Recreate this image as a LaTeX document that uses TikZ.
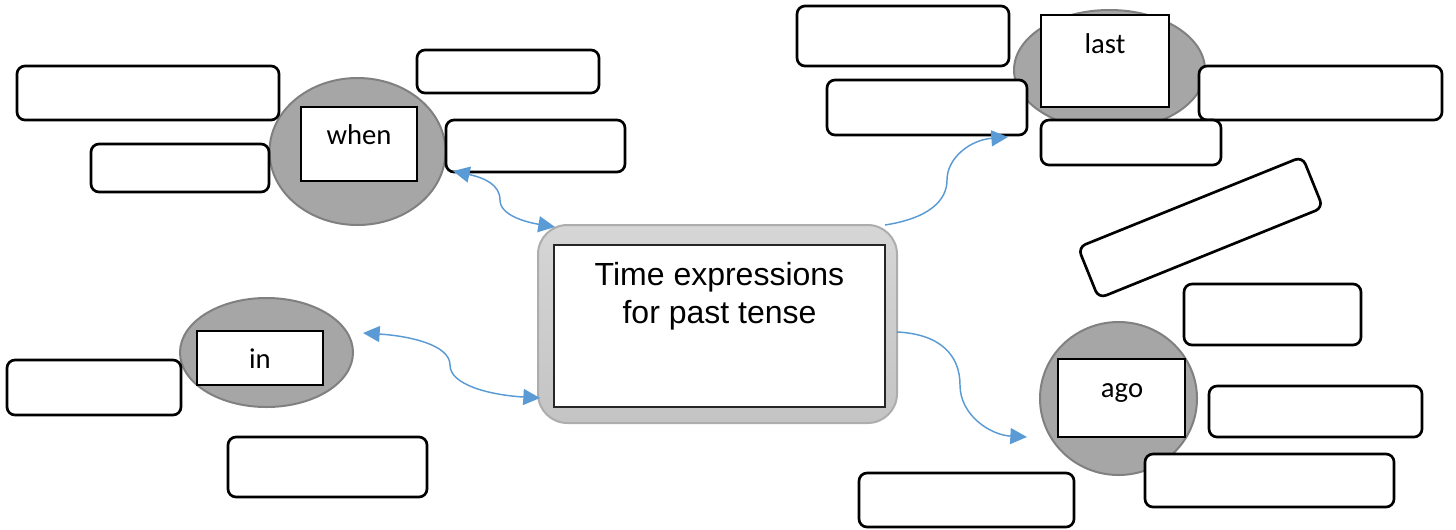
\documentclass[tikz,border=0pt]{standalone}
\usepackage{fontspec}
\newfontfamily\titlefont{Liberation Sans}
\newfontfamily\labelfont{Carlito}
\usetikzlibrary{shapes.geometric,arrows.meta,fit}

\definecolor{linkblue}{HTML}{5B9BD5}
\definecolor{bubblefill}{HTML}{A6A6A6}
\definecolor{bubbleedge}{HTML}{808080}
\definecolor{hubedge}{HTML}{ADADAD}
\definecolor{hubtop}{HTML}{D6D6D6}
\definecolor{hubbottom}{HTML}{C4C4C4}

\tikzset{
  blank/.style={draw=black, fill=white, line width=2pt, rounded corners=6pt, inner sep=0pt},
  bubble/.style={ellipse, draw=bubbleedge, fill=bubblefill, line width=1.5pt, inner sep=0pt},
  tag/.style={draw=black, fill=white, line width=0.8pt, inner sep=0pt},
  tagtext/.style={font=\labelfont\fontsize{21.5}{25}\selectfont, anchor=base, inner sep=0pt},
  link/.style={draw=linkblue, line width=1.1pt},
  linkend/.style={-{Triangle[length=12.5pt,width=12pt]}},
  linkboth/.style={{Triangle[length=12.5pt,width=12pt]}-{Triangle[length=12.5pt,width=12pt]}},
}

\begin{document}
\begin{tikzpicture}[x=0.75pt, y=-0.75pt]
\useasboundingbox (0,0) rectangle (1456,529);

% ---- central topic ----
\node[fit={(538,225) (897,423)}, inner sep=0pt, rounded corners=22pt,
      draw=hubedge, line width=1.5pt, top color=hubtop, bottom color=hubbottom] (hub) {};
\node[fit={(554,245) (885,407)}, inner sep=0pt, draw=black!85, fill=white, line width=1.1pt] (panel) {};
% the base anchor of a two-line node sits on the last line
\node[font=\titlefont\fontsize{24}{28.5}\selectfont, align=center, anchor=base, inner sep=0pt]
      (title) at (719.5,323) {Time expressions\\for past tense};

% ---- "when" cluster ----
\node[bubble, minimum width=132pt, minimum height=110.25pt] (whenbub) at (357.5,151.5) {};
\node[tag, fit={(301,107) (417,181)}] (whentag) {};
\node[tagtext] (whenlbl) at (359,144) {when};
\node[blank, fit={(17,66) (279,120)}] (w1) {};
\node[blank, fit={(91,144) (269,192)}] (w2) {};
\node[blank, fit={(417,50) (599,93)}] (w3) {};
\node[blank, fit={(446,120) (625,172)}] (w4) {};

% ---- "in" cluster ----
\node[bubble, minimum width=129.75pt, minimum height=81.75pt] (inbub) at (266.5,352.5) {};
\node[tag, fit={(197,331) (323,385)}] (intag) {};
\node[tagtext] (inlbl) at (260,368) {in};
\node[blank, fit={(7,360) (181,415)}] (i1) {};
\node[blank, fit={(228,437) (427,497)}] (i2) {};

% ---- "last" cluster ----
\node[bubble, minimum width=143.25pt, minimum height=90pt] (lastbub) at (1109.5,70) {};
\node[tag, fit={(1041,15) (1169,107)}] (lasttag) {};
\node[tagtext] (lastlbl) at (1105,53) {last};
\node[blank, fit={(797,6) (1009,66)}] (l1) {};
\node[blank, fit={(827,80) (1027,135)}] (l2) {};
\node[blank, fit={(1199,66) (1442,120)}] (l3) {};
\node[blank, fit={(1041,120) (1221,165)}] (l4) {};
\node[blank, minimum width=181.5pt, minimum height=41.25pt, rotate=22] (l5) at (1200.5,227.5) {};

% ---- "ago" cluster ----
\node[bubble, minimum width=117.75pt, minimum height=114.75pt] (agobub) at (1118.5,398.5) {};
\node[tag, fit={(1058,359) (1185,437)}] (agotag) {};
\node[tagtext] (agolbl) at (1122,397) {ago};
\node[blank, fit={(1184,284) (1361,345)}] (a1) {};
\node[blank, fit={(1209,386) (1422,437)}] (a2) {};
\node[blank, fit={(1145,454) (1394,507)}] (a3) {};
\node[blank, fit={(859,473) (1074,527)}] (a4) {};

% ---- connector end points ----
\coordinate (whenport) at (453,171);
\coordinate (hubwhen)  at (555,227);
\coordinate (inport)   at (363,333);
\coordinate (hubin)    at (540,398);
\coordinate (hublast)  at (885,225);
\coordinate (lastport) at (1008,137);
\coordinate (hubago)   at (897,332);
\coordinate (agoport)  at (1027,437);

% ---- curved connectors ----
\draw[link, linkboth] (whenport) .. controls (485,178) and (500,185) .. (500,200)
                      .. controls (500,215) and (525,222) .. (hubwhen);
\draw[link, linkboth] (inport) .. controls (410,336) and (450,345) .. (450,365)
                      .. controls (450,385) and (490,395) .. (hubin);
\draw[link, linkend] (hublast) .. controls (930,218) and (947,200) .. (947,180)
                     .. controls (947,158) and (970,140) .. (lastport);
\draw[link, linkend] (hubago) .. controls (940,334) and (960,355) .. (960,385)
                     .. controls (960,415) and (990,435) .. (agoport);
\end{tikzpicture}
\end{document}
